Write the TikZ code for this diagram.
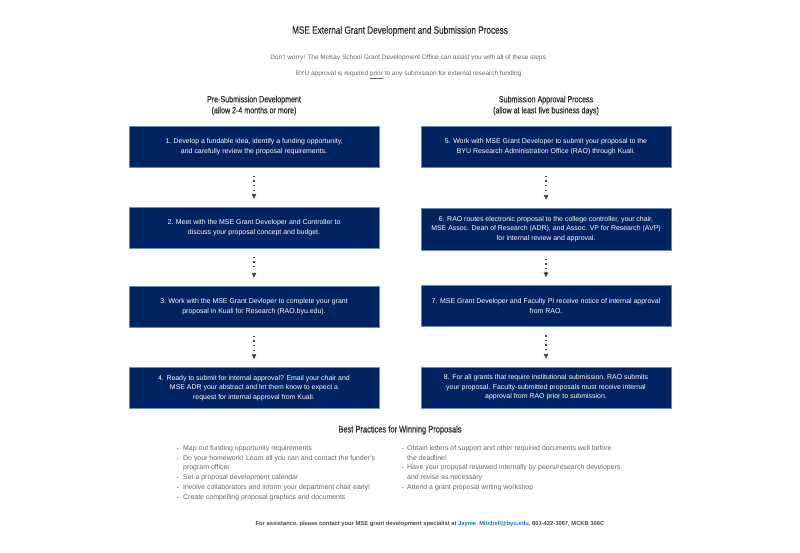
\documentclass[tikz,border=0pt]{standalone}
\usepackage{fontspec}
\setmainfont{Liberation Sans}
\newfontfamily\condfont[FakeStretch=0.78,FakeBold=0.35]{Liberation Sans}
\usetikzlibrary{arrows.meta}
\definecolor{navy}{HTML}{002461}
\definecolor{boxedge}{HTML}{6F86B0}
\definecolor{dotgrey}{HTML}{444444}
\definecolor{bodygrey}{HTML}{666666}
\definecolor{headgrey}{HTML}{2B2B2B}
\definecolor{footgrey}{HTML}{4A4A4A}
\definecolor{linkblue}{HTML}{1F6FB5}
\begin{document}
\begin{tikzpicture}[x=1pt,y=-1pt,
  stepbox/.style={fill=navy, draw=boxedge, line width=0.5pt, minimum width=250pt,
    minimum height=41pt, text=white, font=\fontsize{6.95}{9.6}\selectfont, align=center, inner sep=0pt},
  dotline/.style={draw=dotgrey, line width=1.3pt, dash pattern=on 1.3pt off 3.3pt},
  tipline/.style={draw=dotgrey, line width=0.6pt, -{Triangle[width=4.5pt,length=4.8pt]}},
  titlefont/.style={font=\condfont\fontsize{10.5}{12}\selectfont, text=headgrey},
  colhead/.style={font=\condfont\fontsize{9.1}{11}\selectfont, text=headgrey, align=center},
  subtxt/.style={font=\fontsize{6.5}{8}\selectfont, text=bodygrey, anchor=base},
  bul/.style={font=\fontsize{6.95}{8}\selectfont, text=bodygrey, anchor=base west, inner sep=0pt},
  bulmark/.style={font=\fontsize{4.5}{6}\selectfont, text=bodygrey, anchor=base, inner sep=0pt}
]
\useasboundingbox[fill=white] (0,0) rectangle (800,552);

% title and subtitles
\node[titlefont] (title) at (400,31) {MSE External Grant Development and Submission Process};
\node[subtxt] (sub1) at (409,59.5) {Don't worry! The McKay School Grant Development Office can assist you with all of these steps.};
\node[subtxt] (sub2) at (409.5,75) {BYU approval is required \underline{prior} to any submission for external research funding.};

% column headers
\node[colhead] (lhead) at (254,105.5) {Pre-Submission Development\\(allow 2-4 months or more)};
\node[colhead] (rhead) at (546,105.5) {Submission Approval Process\\(allow at least five business days)};

% left column boxes
\node[stepbox] (b1) at (254,146.5) {1. Develop a fundable idea, identify a funding opportunity,\\and carefully review the proposal requirements.};
\node[stepbox] (b2) at (254,227.5) {2. Meet with the MSE Grant Developer and Controller to\\discuss your proposal concept and budget.};
\node[stepbox] (b3) at (254,306.5) {3. Work with the MSE Grant Devloper to complete your grant\\proposal in Kuali for Research (RAO.byu.edu).};
\node[stepbox] (b4) at (254,388) {4. Ready to submit for internal approval? Email your chair and\\MSE ADR your abstract and let them know to expect a\\request for internal approval from Kuali.};

% right column boxes
\node[stepbox] (b5) at (546,146.5) {5. Work with MSE Grant Developer to submit your proposal to the\\BYU Research Administration Office (RAO) through Kuali.};
\node[stepbox, minimum height=42pt] (b6) at (546,229) {6. RAO routes electronic proposal to the college controller, your chair,\\MSE Assoc. Dean of Research (ADR), and Assoc. VP for Research (AVP)\\for internal review and approval.};
\node[stepbox] (b7) at (546,306) {7. MSE Grant Developer and Faculty PI receive notice of internal approval\\from RAO.};
\node[stepbox] (b8) at (546,387.5) {8. For all grants that require institutional submission, RAO submits\\your proposal. Faculty-submitted proposals must receive internal\\approval from RAO prior to submission.};

% connectors: dotted stem plus arrowhead
\foreach \a/\b in {b1/b2,b2/b3,b3/b4,b5/b6,b6/b7,b7/b8}{
  \draw[dotline] ([yshift=-8.5pt]\a.south) -- ([yshift=16pt]\b.north);
  \draw[tipline] ([yshift=13pt]\b.north) -- ([yshift=8pt]\b.north);
}

% best practices
\node[titlefont, font=\condfont\fontsize{9.6}{11}\selectfont] (bp) at (400,430) {Best Practices for Winning Proposals};

\node[bulmark] (m1) at (178,450) {•}; \node[bul] (l1) at (183,450) {Map out funding opportunity requirements};
\node[bulmark] (m2) at (178,460) {•}; \node[bul] (l2) at (183,460) {Do your homework! Learn all you can and contact the funder's};
\node[bul] (l2b) at (183,469.8) {program officer};
\node[bulmark] (m3) at (178,479.6) {•}; \node[bul] (l3) at (183,479.6) {Set a proposal development calendar};
\node[bulmark] (m4) at (178,489.4) {•}; \node[bul] (l4) at (183,489.4) {Involve collaborators and inform your department chair early!};
\node[bulmark] (m5) at (178,499.2) {•}; \node[bul] (l5) at (183,499.2) {Create compelling proposal graphics and documents};

\node[bulmark] (n1) at (403,450) {•}; \node[bul] (r1) at (407,450) {Obtain letters of support and other required documents well before};
\node[bul] (r1b) at (407,460) {the deadline!};
\node[bulmark] (n2) at (403,469.8) {•}; \node[bul] (r2) at (407,469.8) {Have your proposal reviewed internally by peers/research developers};
\node[bul] (r2b) at (407,479.6) {and revise as necessary};
\node[bulmark] (n3) at (403,489.4) {•}; \node[bul] (r3) at (407,489.4) {Attend a grant proposal writing workshop};

% footer
\node[font=\bfseries\fontsize{5.8}{7}\selectfont, text=footgrey, anchor=base] (foot) at (430,525) {For assistance, please contact your MSE grant development specialist at \textcolor{linkblue}{Jaynie\_Mitchell@byu.edu}, 801-422-3067, MCKB 306C};
\end{tikzpicture}
\end{document}
